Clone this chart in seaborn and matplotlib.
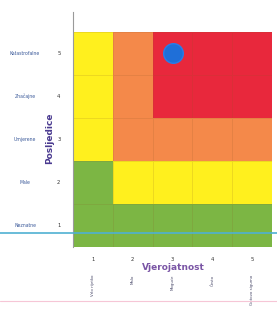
import numpy as np
import pandas as pd
import matplotlib
matplotlib.use("Agg")
import matplotlib.pyplot as plt
from matplotlib.colors import ListedColormap
from matplotlib.lines import Line2D
import seaborn as sns

# ---- data ----
likelihood = [1, 2, 3, 4, 5]
consequence = [5, 4, 3, 2, 1]  # top to bottom
consequence_names = ["Katastrofalne", "Značajne", "Umjerene", "Male", "Neznatne"]
likelihood_names = ["Vrlo rijetko", "Malo", "Moguće", "Često", "Gotovo sigurno"]
# risk level per cell: 0 green, 1 yellow, 2 orange, 3 red
levels = [
    [1, 2, 3, 3, 3],
    [1, 2, 3, 3, 3],
    [1, 2, 2, 2, 2],
    [0, 1, 1, 1, 1],
    [0, 0, 0, 0, 0],
]
risk_x = [3]
risk_y = [5]

sns.set_style("white")
plt.rcParams["font.family"] = ["DejaVu Sans"]

W, H = 277, 312
fig = plt.figure(figsize=(W / 100, H / 100), dpi=100)
L, R, B, T = 73, 272, 247, 12
ax = fig.add_axes([L / W, 1 - B / H, (R - L) / W, (B - T) / H])

df = pd.DataFrame(levels, index=consequence, columns=likelihood)
cmap = ListedColormap(["#7cb644", "#fff01e", "#f4894a", "#e8283c"])
sns.heatmap(df, ax=ax, cmap=cmap, vmin=-0.5, vmax=3.5, cbar=False,
            linewidths=0.4, linecolor=(0.55, 0.35, 0.15, 0.15))

# extend the y axis above the grid
ax.set_ylim(5, -0.465)
ax.set_xlim(0, 5)

# risk point
ax.scatter([x - 0.5 for x in risk_x], [5 - y + 0.5 for y in risk_y],
           s=200, color="#1f6fd8", edgecolor="#2a7de8", zorder=5)

ax.tick_params(axis="both", length=0, labelsize=3.8, colors="#333333")
ax.tick_params(axis="x", pad=7)
ax.tick_params(axis="y", pad=9)
ax.set_xticklabels([str(v) for v in likelihood], rotation=0)
ax.set_yticklabels([str(v) for v in consequence], rotation=0)
ax.set_xlabel("")
ax.set_ylabel("")

for s in ["top", "right", "bottom"]:
    ax.spines[s].set_visible(False)
ax.spines["left"].set_visible(True)
ax.spines["left"].set_color("#9a9a9a")
ax.spines["left"].set_linewidth(0.8)

# consequence names
for i, name in enumerate(consequence_names):
    ax.text(-0.241, i + 0.5, name, transform=ax.get_yaxis_transform(),
            ha="center", va="center", fontsize=3.3, color="#3b5a9a")

# likelihood names (vertical)
for i, name in enumerate(likelihood_names):
    ax.text(i + 0.5, -28 / 235, name, transform=ax.get_xaxis_transform(),
            ha="center", va="top", rotation=90, fontsize=2.8, color="#4a4a6a")

fig.text(173 / W, 1 - 268 / H, "Vjerojatnost", ha="center", va="center",
         fontsize=6.5, fontweight="bold", color="#7a55a5")
fig.text(50 / W, 1 - 138 / H, "Posljedice", ha="center", va="center",
         rotation=90, fontsize=6.5, fontweight="bold", color="#4a3a90")

# scan lines
fig.add_artist(Line2D([0, 1], [1 - 233 / H] * 2, color="#4fb0d2",
                      linewidth=1.2, zorder=10))
fig.add_artist(Line2D([0, 1], [1 - 301 / H] * 2, color="#f6c6d6",
                      linewidth=0.8, zorder=10))

fig.savefig("out.png", dpi=100, facecolor="white")
